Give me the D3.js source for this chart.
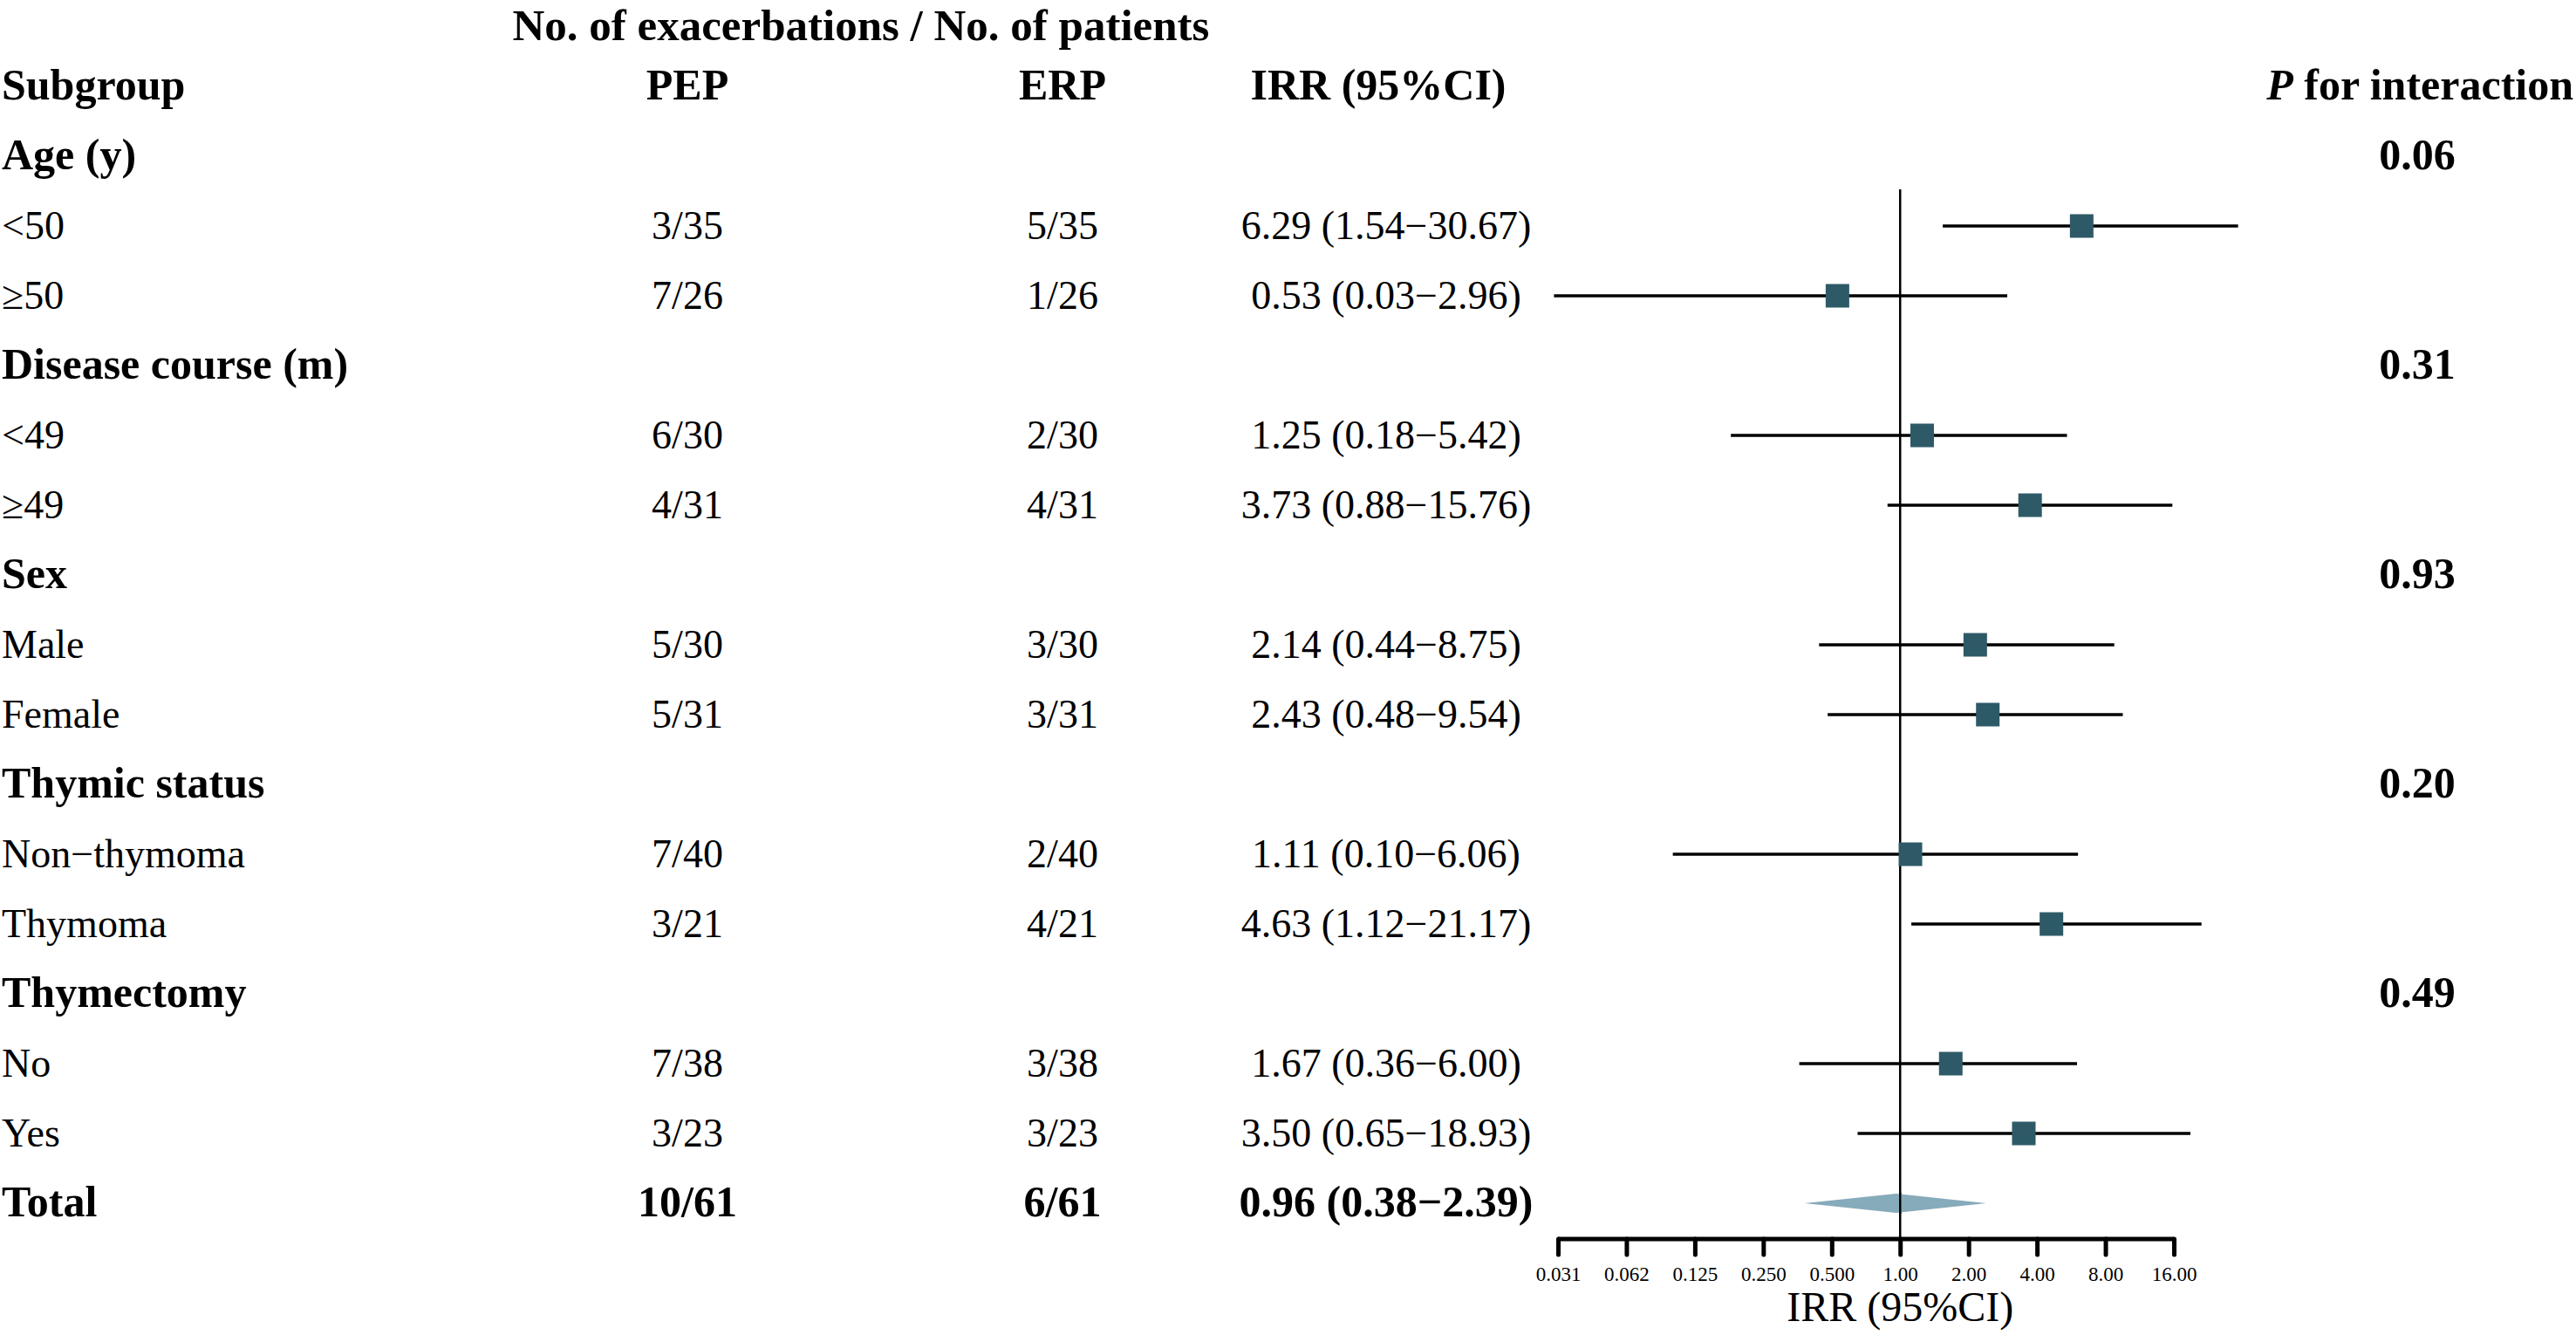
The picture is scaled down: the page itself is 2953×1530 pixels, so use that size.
<!DOCTYPE html>
<html>
<head>
<meta charset="utf-8">
<script src="https://cdn.jsdelivr.net/npm/d3@7"></script>
<style>
  body { margin: 0; background: #fff; }
  text { font-family: "Liberation Serif", "Times New Roman", serif; fill: #000; }
</style>
</head>
<body>
<script>
// table rows, top to bottom (group headers have no estimate)
const labels = ["Age (y)", "<50", "\u226550", "Disease course (m)", "<49", "\u226549", "Sex", "Male", "Female",
  "Thymic status", "Non\u2212thymoma", "Thymoma", "Thymectomy", "No", "Yes", "Total"];
const isGroup = [1, 0, 0, 1, 0, 0, 1, 0, 0, 1, 0, 0, 1, 0, 0, 0];
const pep = ["", "3/35", "7/26", "", "6/30", "4/31", "", "5/30", "5/31", "", "7/40", "3/21", "", "7/38", "3/23", "10/61"];
const erp = ["", "5/35", "1/26", "", "2/30", "4/31", "", "3/30", "3/31", "", "2/40", "4/21", "", "3/38", "3/23", "6/61"];
const irr = [null, 6.29, 0.53, null, 1.25, 3.73, null, 2.14, 2.43, null, 1.11, 4.63, null, 1.67, 3.50, 0.96];
const lower = [null, 1.54, 0.03, null, 0.18, 0.88, null, 0.44, 0.48, null, 0.10, 1.12, null, 0.36, 0.65, 0.38];
const upper = [null, 30.67, 2.96, null, 5.42, 15.76, null, 8.75, 9.54, null, 6.06, 21.17, null, 6.00, 18.93, 2.39];
const pInter = ["0.06", "", "", "0.31", "", "", "0.93", "", "", "0.20", "", "", "0.49", "", "", ""];

const tickVals = [0.03125, 0.0625, 0.125, 0.25, 0.5, 1, 2, 4, 8, 16];
const tickLabels = ["0.031", "0.062", "0.125", "0.250", "0.500", "1.00", "2.00", "4.00", "8.00", "16.00"];

const W = 2953, H = 1530;
const svg = d3.select("body").append("svg").attr("width", W).attr("height", H)
  .attr("font-family", "Liberation Serif, Times New Roman, serif");
svg.append("rect").attr("width", W).attr("height", H).attr("fill", "#fff");

// row 0 = super title, row 1 = column headers, rows 2.. = data
const y = d3.scalePoint().domain(d3.range(labels.length + 2)).range([19, 1379]);
const x = d3.scaleLog().base(2).domain([0.03125, 16]).range([1786, 2492]);
const fmt = d => d.toFixed(2);
const base = 15;
const axisY = 1420;

// headers
svg.append("text").attr("x", 987).attr("y", 46).attr("text-anchor", "middle")
  .attr("font-weight", "bold").attr("font-size", 51).text("No. of exacerbations / No. of patients");
const head = svg.append("g").attr("font-weight", "bold").attr("font-size", 50);
head.append("text").attr("x", 2).attr("y", y(1) + base).text("Subgroup");
head.append("text").attr("x", 788).attr("y", y(1) + base).attr("text-anchor", "middle").text("PEP");
head.append("text").attr("x", 1218).attr("y", y(1) + base).attr("text-anchor", "middle").text("ERP");
head.append("text").attr("x", 1580).attr("y", y(1) + base).attr("text-anchor", "middle").text("IRR (95%CI)");
const ph = head.append("text").attr("x", 2950).attr("y", y(1) + base).attr("text-anchor", "end");
ph.append("tspan").attr("font-style", "italic").text("P");
ph.append("tspan").text(" for interaction");

// table text
const rows = svg.selectAll("g.row").data(labels).enter().append("g").attr("class", "row")
  .attr("font-size", (d, i) => (isGroup[i] || i === labels.length - 1) ? 50 : 46)
  .attr("font-weight", (d, i) => (isGroup[i] || i === labels.length - 1) ? "bold" : "normal");
rows.append("text").attr("x", 2).attr("y", (d, i) => y(i + 2) + base).text(d => d);
rows.append("text").attr("x", 788).attr("y", (d, i) => y(i + 2) + base).attr("text-anchor", "middle").text((d, i) => pep[i]);
rows.append("text").attr("x", 1218).attr("y", (d, i) => y(i + 2) + base).attr("text-anchor", "middle").text((d, i) => erp[i]);
rows.append("text").attr("x", 1589).attr("y", (d, i) => y(i + 2) + base).attr("text-anchor", "middle")
  .text((d, i) => irr[i] == null ? "" : fmt(irr[i]) + " (" + fmt(lower[i]) + "\u2212" + fmt(upper[i]) + ")");
rows.append("text").attr("x", 2771).attr("y", (d, i) => y(i + 2) + base).attr("text-anchor", "middle")
  .attr("font-weight", "bold").attr("font-size", 50).text((d, i) => pInter[i]);

// forest: CI lines and squares
const est = d3.range(labels.length - 1).filter(i => irr[i] != null);
svg.selectAll("line.ci").data(est).enter().append("line").attr("class", "ci")
  .attr("x1", i => x(lower[i])).attr("x2", i => x(upper[i]))
  .attr("y1", i => y(i + 2)).attr("y2", i => y(i + 2))
  .attr("stroke", "#000").attr("stroke-width", 3.5);

// reference line at 1
svg.append("line").attr("x1", x(1)).attr("x2", x(1)).attr("y1", 217).attr("y2", axisY)
  .attr("stroke", "#000").attr("stroke-width", 2.5);

const sq = 27;
svg.selectAll("rect.pt").data(est).enter().append("rect").attr("class", "pt")
  .attr("x", i => x(irr[i]) - sq / 2).attr("y", i => y(i + 2) - sq / 2)
  .attr("width", sq).attr("height", sq).attr("fill", "#2e5a67");

// total diamond
const t = labels.length - 1, ty = y(t + 2);
svg.append("path")
  .attr("d", `M${x(lower[t])},${ty}L${x(irr[t])},${ty - 11}L${x(upper[t])},${ty}L${x(irr[t])},${ty + 11}Z`)
  .attr("fill", "#86abba");
svg.append("line").attr("x1", x(1)).attr("x2", x(1)).attr("y1", ty - 12).attr("y2", ty + 12)
  .attr("stroke", "#000").attr("stroke-width", 2.5);

// x axis
const ax = svg.append("g").attr("transform", `translate(0,${axisY})`)
  .call(d3.axisBottom(x).tickValues(tickVals).tickFormat((d, i) => tickLabels[i]).tickSize(18).tickPadding(14));
ax.select(".domain").attr("stroke-width", 5).attr("d", `M${x(0.03125)},0H${x(16)}`);
ax.selectAll(".tick line").attr("stroke-width", 5).attr("stroke-linecap", "round");
ax.selectAll(".tick text").attr("font-family", "Liberation Serif, serif").attr("font-size", 23).attr("fill", "#000");
svg.append("text").attr("x", x(1)).attr("y", 1514).attr("text-anchor", "middle").attr("font-size", 48).text("IRR (95%CI)");
</script>
</body>
</html>
